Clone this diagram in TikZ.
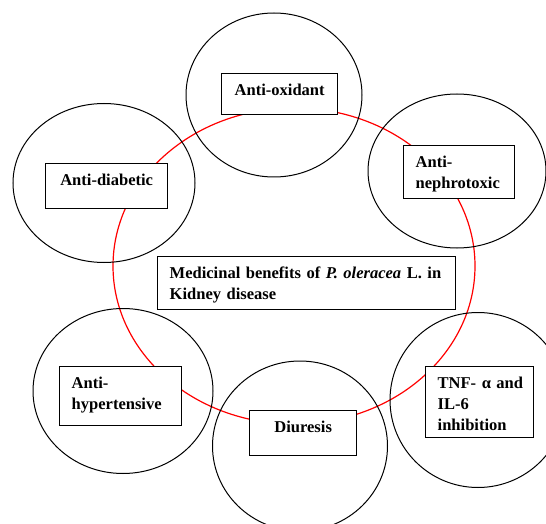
\documentclass[tikz,border=0pt]{standalone}
\usepackage{fontspec}
\setmainfont{Liberation Serif}
\usetikzlibrary{shapes}

\tikzset{
  halo/.style={ellipse, draw, line width=0.75pt, inner sep=0pt},
  benefit/.style={draw, fill=white, line width=1pt, anchor=north west,
    inner xsep=9pt, inner ysep=0pt, text height=16.5pt,
    font=\bfseries\fontsize{12.4}{15.75}\selectfont},
}

\begin{document}
\begin{tikzpicture}[x=0.75pt, y=-0.75pt]
        \useasboundingbox (0,0) rectangle (546,524);

        % draw red ring
        \node[ellipse, draw=red, line width=0.9pt, inner sep=0pt,
          minimum width=271.5pt, minimum height=237pt] (ring) at (294,266) {};

        % draw circles
        \foreach \name/\x/\y/\w/\h in {oxc/274/95/132/123, diac/104/183/136.5/119.25,
            nepc/457/171/133.5/115.5, hypc/123/391/135/123.75,
            diuc/300/446/131.25/127.5, tnfc/478/400/132/131.25}
          \node[halo, minimum width=\w pt, minimum height=\h pt] (\name) at (\x,\y) {};

        % draw boxes
        \node[benefit, text width=69pt, text depth=14.25pt, align=center] (ox) at (221,73) {Anti-oxidant};
        \node[benefit, text width=73.5pt, text depth=17.25pt, align=center] (dia) at (45,163) {Anti-diabetic};
        \node[benefit, text width=65.25pt, text depth=23.25pt, align=left] (nep) at (403,145) {Anti-\\nephrotoxic};
        \node[benefit, text width=205.5pt, text depth=23.25pt, align=left] (main) at (157,256)
          {Medicinal benefits of \textit{P. oleracea} L. in\\Kidney disease};
        \node[benefit, text width=73.5pt, text depth=27.75pt, align=left] (hyp) at (59,366) {Anti-\\hypertensive};
        \node[benefit, text width=62.25pt, text depth=17.25pt, align=center] (diu) at (249,410) {Diuresis};
        \node[benefit, text width=63pt, text depth=36.75pt, align=left] (tnf) at (425,366)
          {\mbox{TNF- α and}\\IL-6\\inhibition};
\end{tikzpicture}
\end{document}
